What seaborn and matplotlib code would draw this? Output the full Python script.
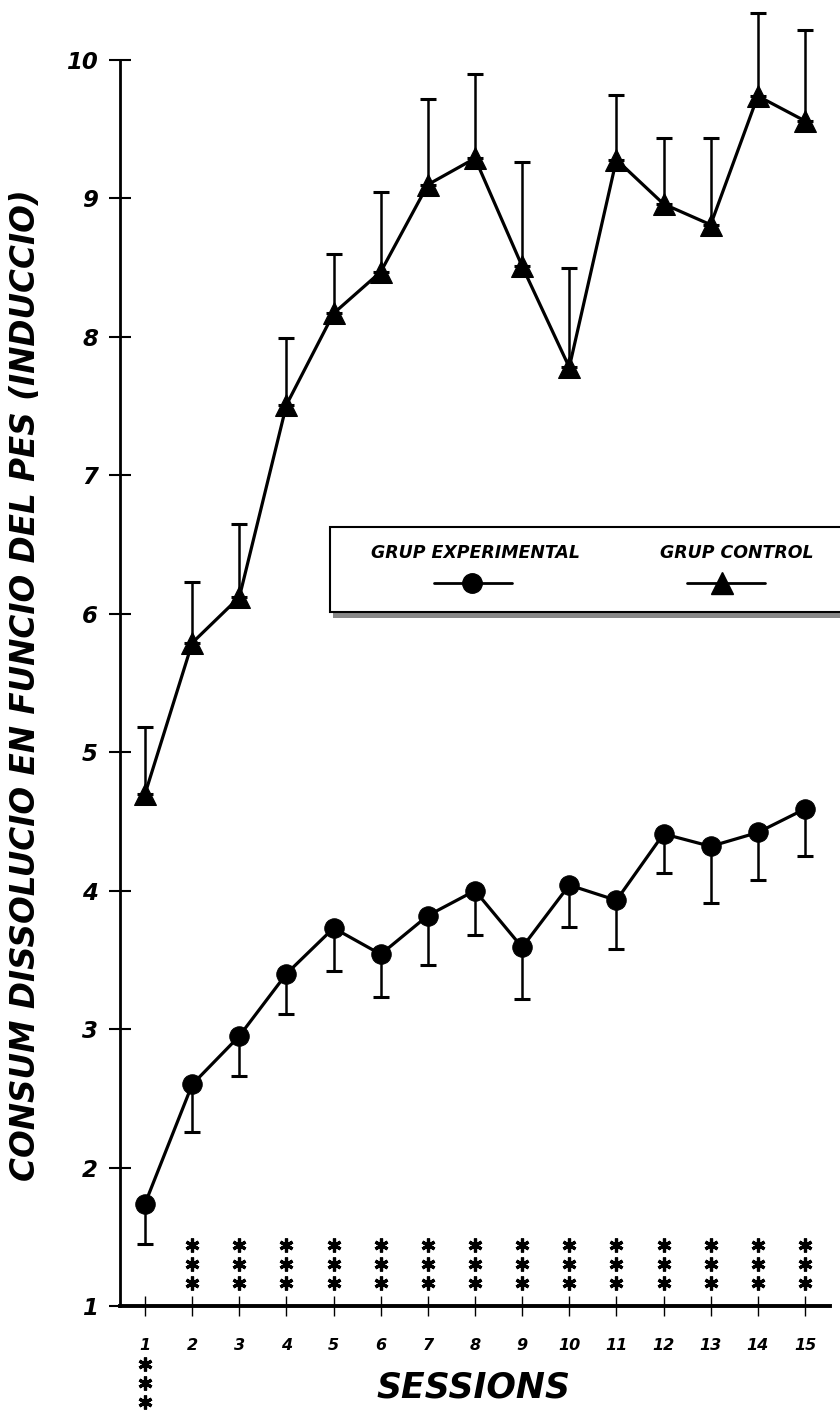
import numpy as np
import pandas as pd
import matplotlib
matplotlib.use("Agg")
import matplotlib.pyplot as plt
import matplotlib.transforms as mtransforms
from matplotlib.patches import Rectangle
from matplotlib.lines import Line2D
import seaborn as sns

# ---------------- data ----------------
sessions = list(range(1, 16))
exp_mean = [1.74, 2.60, 2.95, 3.40, 3.73, 3.54, 3.82, 4.00, 3.59, 4.04, 3.93, 4.41, 4.32, 4.42, 4.59]
exp_low = [1.45, 2.26, 2.66, 3.11, 3.42, 3.23, 3.46, 3.68, 3.22, 3.74, 3.58, 4.13, 3.91, 4.08, 4.25]
ctl_mean = [4.70, 5.79, 6.12, 7.51, 8.17, 8.47, 9.10, 9.29, 8.51, 7.78, 9.28, 8.96, 8.81, 9.74, 9.56]
ctl_high = [5.18, 6.23, 6.65, 7.99, 8.60, 9.05, 9.72, 9.90, 9.26, 8.50, 9.75, 9.44, 9.44, 10.34, 10.22]
star_sessions_above = list(range(2, 16))
star_sessions_below = [1]
yticks = list(range(1, 11))
group_labels = ["GRUP EXPERIMENTAL", "GRUP CONTROL"]
x_title = "SESSIONS"
y_title = "CONSUM DISSOLUCIO EN FUNCIO DEL PES (INDUCCIO)"

df_exp = pd.DataFrame({"session": sessions, "value": exp_mean, "group": group_labels[0]})
df_ctl = pd.DataFrame({"session": sessions, "value": ctl_mean, "group": group_labels[1]})

# ---------------- style ----------------
sns.set_style("ticks")
plt.rcParams["font.family"] = ["DejaVu Sans"]
for k in ("text.color", "axes.labelcolor", "xtick.color", "ytick.color", "axes.edgecolor"):
    plt.rcParams[k] = "black"
FONT = dict(family=["DejaVu Sans"], weight="bold", style="italic")

fig = plt.figure(figsize=(8.4, 14.12), dpi=100)
ax = fig.add_axes([0.143, 0.0751, 0.845, 0.8824])

# error bars (one-sided: experimental downward, control upward)
exp_err = [np.array(exp_mean) - np.array(exp_low), np.zeros(15)]
ctl_err = [np.zeros(15), np.array(ctl_high) - np.array(ctl_mean)]
for m, e in [(exp_mean, exp_err), (ctl_mean, ctl_err)]:
    eb = ax.errorbar(sessions, m, yerr=e, fmt="none", ecolor="black",
                     elinewidth=1.8, capsize=5.5, capthick=2.2, zorder=2)
    for art in list(eb.lines[1]) + list(eb.lines[2]):
        art.set_clip_on(False)

sns.lineplot(data=df_exp, x="session", y="value", color="black", marker="o",
             linewidth=2.3, markersize=14, markeredgecolor="black",
             legend=False, ax=ax, zorder=3, clip_on=False)
sns.lineplot(data=df_ctl, x="session", y="value", color="black", marker="^",
             linewidth=2.3, markersize=16, markeredgecolor="black",
             legend=False, ax=ax, zorder=3, clip_on=False)

ax.set_xlim(0.47, 15.53)
ax.set_ylim(1, 10)
ax.set_xticks(sessions)
ax.set_yticks(yticks)
ax.set_xticklabels([str(s) for s in sessions], fontdict=dict(size=11.5, **FONT))
ax.set_yticklabels([str(t) for t in yticks], fontdict=dict(size=16.5, **FONT))
ax.tick_params(axis="y", direction="inout", length=16, width=1.5, pad=8)
ax.tick_params(axis="x", direction="inout", length=14, width=1.0, pad=16)
sns.despine(ax=ax)
ax.spines["left"].set_linewidth(2.0)
ax.spines["bottom"].set_linewidth(2.8)
ax.set_xlabel("")
ax.set_ylabel("")

# axis titles
fig.text(473 / 840, 1 - 1388 / 1412, x_title, ha="center", va="center", fontsize=25, **FONT)
fig.text(26 / 840, 1 - 685 / 1412, y_title, ha="center", va="center", rotation=90,
         fontsize=23.5, **FONT)

# significance stars
trans = mtransforms.blended_transform_factory(ax.transData, ax.transAxes)
for s in star_sessions_above:
    for yy in (0.0490, 0.0335, 0.0185):
        ax.plot([s], [yy], marker=(6, 2, 0), markersize=10, markeredgewidth=2.3,
                color="black", transform=trans, clip_on=False)
for s in star_sessions_below:
    for yy in (-0.0465, -0.0618, -0.0770):
        ax.plot([s], [yy], marker=(6, 2, 0), markersize=10, markeredgewidth=2.3,
                color="black", transform=trans, clip_on=False)

# legend box (custom layout: text above marker)
shadow = Rectangle((0.300, 0.552), 0.75, 0.006, transform=ax.transAxes,
                   facecolor="#888888", edgecolor="none", clip_on=False, zorder=4)
ax.add_patch(shadow)
box = Rectangle((0.296, 0.557), 0.75, 0.068, transform=ax.transAxes,
                facecolor="white", edgecolor="black", linewidth=1.5, clip_on=False, zorder=5)
ax.add_patch(box)
ax.text(0.500, 0.604, group_labels[0], transform=ax.transAxes, ha="center", va="center",
        fontsize=12.5, zorder=6, **FONT)
ax.text(0.869, 0.604, group_labels[1], transform=ax.transAxes, ha="center", va="center",
        fontsize=12.5, zorder=6, **FONT)
ax.add_line(Line2D([0.442, 0.496, 0.552], [0.580, 0.580, 0.580], transform=ax.transAxes,
                   color="black", linewidth=2.0, marker="o", markersize=14, markevery=[1],
                   zorder=6, clip_on=False))
ax.add_line(Line2D([0.799, 0.848, 0.908], [0.580, 0.580, 0.580], transform=ax.transAxes,
                   color="black", linewidth=2.0, marker="^", markersize=16, markevery=[1],
                   zorder=6, clip_on=False))

fig.savefig("out.png", dpi=100)
